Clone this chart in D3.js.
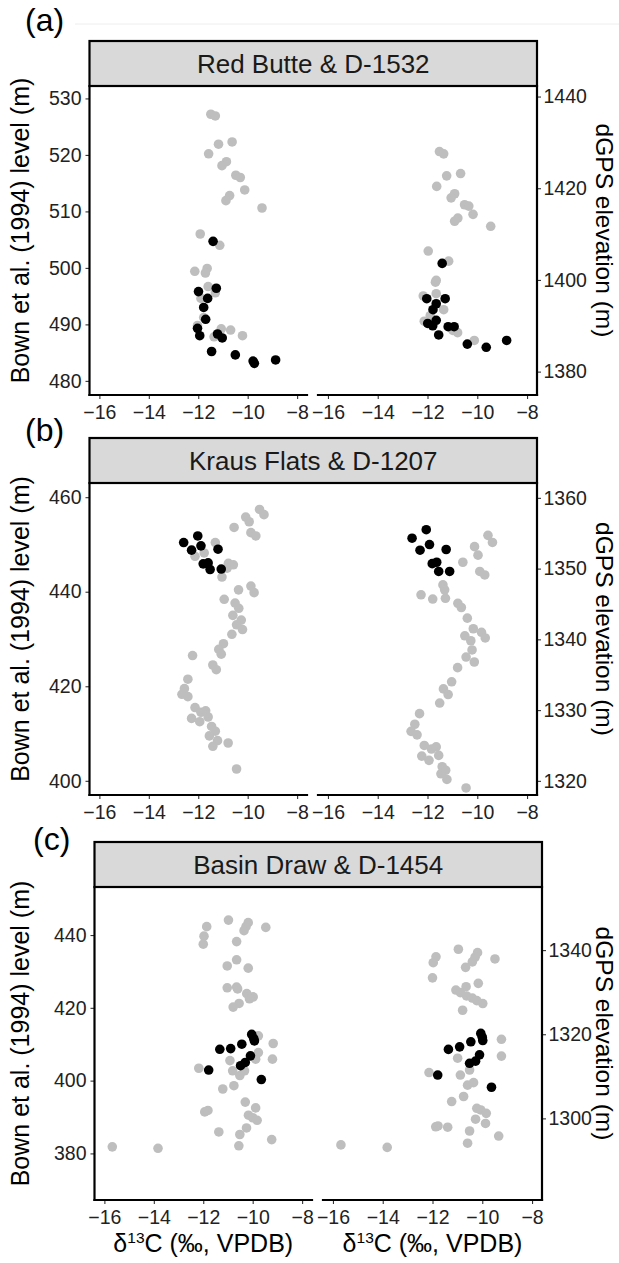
<!DOCTYPE html>
<html>
<head>
<meta charset="utf-8">
<script src="https://cdn.jsdelivr.net/npm/d3@7"></script>
<style>
  body { margin: 0; background: #fff; }
  svg { display: block; font-family: "Liberation Sans", Arial, sans-serif; }
</style>
</head>
<body>
<svg id="chart" width="619" height="1263"></svg>
<script>
// ---- data: [δ13C (‰ VPDB), stratigraphic position] ----
// Red Butte, Bown et al. (1994) level (m)
const redButteLevelGrey = [
  [-11.49,527.2],[-11.31,526.9],[-10.63,522.3],[-11.18,521.9],[-11.58,520.2],[-10.86,518.8],
  [-11.04,518.1],[-10.48,516.4],[-10.30,516.0],[-10.12,513.8],[-10.73,512.8],[-10.88,511.9],
  [-9.42,510.6],[-11.92,506.0],[-11.13,504.0],[-12.14,499.4],[-11.64,499.9],[-11.71,499.1],
  [-11.60,496.7],[-11.89,494.6],[-11.31,495.6],[-11.78,491.2],[-12.03,489.8],[-11.07,489.2],
  [-10.69,489.0],[-10.21,488.0],[-11.36,487.8]
];
const redButteLevelBlack = [
  [-11.40,504.7],[-11.99,495.8],[-11.27,496.4],[-11.62,494.6],[-11.78,493.0],[-11.70,490.9],
  [-12.03,489.3],[-11.94,488.0],[-11.22,488.3],[-11.03,487.6],[-11.46,485.2],[-10.50,484.6],
  [-9.78,483.5],[-9.73,483.1],[-8.87,483.7]
];
// Red Butte, D-1532 dGPS elevation (m)
const redButteElevGrey = [
  [-11.52,1428.0],[-11.35,1427.5],[-10.67,1423.2],[-11.23,1422.7],[-11.63,1420.4],[-10.91,1418.8],
  [-11.05,1417.9],[-10.51,1416.4],[-10.34,1416.1],[-10.17,1414.3],[-10.78,1413.5],[-10.91,1412.8],
  [-9.46,1411.7],[-11.97,1406.3],[-11.15,1404.1],[-11.68,1399.5],[-11.65,1399.9],[-12.17,1396.5],
  [-11.65,1397.0],[-11.35,1393.5],[-11.89,1392.2],[-10.79,1388.5],[-10.12,1386.8],[-12.13,1391.0],
  [-10.98,1389.0]
];
const redButteElevBlack = [
  [-11.41,1403.6],[-12.03,1395.9],[-11.29,1395.9],[-11.65,1394.8],[-11.78,1393.5],[-11.65,1391.2],
  [-11.99,1390.5],[-11.79,1390.0],[-11.17,1389.8],[-10.93,1389.8],[-11.55,1388.0],[-10.40,1386.0],
  [-9.64,1385.3],[-8.82,1386.8]
];

// Kraus Flats, Bown et al. (1994) level (m)
const krausLevelGrey = [
  [-9.52,457.4],[-9.34,456.3],[-10.08,455.8],[-9.94,454.8],[-10.55,453.6],[-9.87,452.5],
  [-9.67,451.8],[-11.31,450.4],[-11.76,448.2],[-12.13,447.5],[-10.78,446.0],[-10.58,445.7],
  [-10.83,445.0],[-11.04,443.1],[-10.95,438.4],[-10.37,440.4],[-9.87,441.2],[-9.74,439.8],
  [-10.51,437.6],[-10.36,436.5],[-10.60,435.0],[-10.26,434.0],[-10.45,433.0],[-10.21,432.0],
  [-10.64,431.0],[-10.98,429.0],[-11.17,427.8],[-11.07,426.8],[-12.23,426.5],[-11.41,424.5],
  [-11.27,423.5],[-12.42,421.5],[-12.56,419.5],[-12.66,418.3],[-12.42,417.8],[-12.13,415.5],
  [-11.89,414.5],[-11.70,414.8],[-12.27,413.2],[-11.60,413.5],[-11.94,412.5],[-11.46,411.5],
  [-11.31,410.5],[-11.55,409.5],[-11.22,408.5],[-11.41,407.3],[-10.79,408.0],[-10.45,402.5]
];
const krausLevelBlack = [
  [-12.59,450.4],[-12.02,451.8],[-12.27,448.8],[-11.89,449.7],[-11.20,449.0],[-11.80,445.9],
  [-11.60,446.1],[-11.52,444.7],[-11.07,444.8]
];
// Kraus Flats, D-1207 dGPS elevation (m)
const krausElevGrey = [
  [-9.57,1354.7],[-9.39,1353.7],[-10.11,1353.1],[-9.97,1351.9],[-10.58,1350.9],[-9.90,1349.6],
  [-9.70,1349.1],[-11.38,1347.7],[-12.26,1346.3],[-11.79,1345.7],[-11.28,1345.8],[-11.31,1347.0],
  [-10.78,1345.1],[-10.64,1344.5],[-10.40,1343.0],[-10.16,1341.5],[-10.50,1340.5],[-10.26,1339.8],
  [-9.83,1341.0],[-9.68,1340.2],[-10.21,1338.5],[-10.45,1337.5],[-10.12,1336.8],[-10.79,1336.0],
  [-11.03,1334.0],[-11.36,1333.0],[-11.17,1332.2],[-11.51,1331.0],[-12.32,1329.5],[-12.51,1328.0],
  [-12.66,1327.0],[-12.42,1326.5],[-12.13,1325.0],[-11.84,1324.5],[-11.65,1324.8],[-12.23,1323.5],
  [-11.55,1323.6],[-11.94,1322.9],[-11.41,1322.0],[-11.27,1321.5],[-11.46,1321.0],[-11.22,1320.2],
  [-10.45,1319.0]
];
const krausElevBlack = [
  [-12.05,1355.5],[-12.62,1354.3],[-11.92,1353.4],[-12.30,1352.6],[-11.25,1352.7],[-11.81,1350.7],
  [-11.63,1350.9],[-11.55,1349.6],[-11.11,1349.6]
];

// Basin Draw, Bown et al. (1994) level (m)
const basinLevelGrey = [
  [-11.86,442.3],[-11.97,439.7],[-12.00,437.5],[-10.98,444.1],[-10.18,443.4],[-10.27,442.3],
  [-10.35,441.2],[-9.47,442.1],[-10.65,438.2],[-10.65,433.2],[-11.03,431.5],[-10.18,430.9],
  [-11.03,425.5],[-10.65,425.7],[-10.61,425.2],[-10.24,423.9],[-9.98,423.0],[-10.13,422.5],
  [-10.55,421.2],[-10.79,420.2],[-12.18,403.4],[-11.21,397.7],[-10.76,398.6],[-10.92,405.5],
  [-10.81,402.7],[-10.52,401.4],[-10.33,402.7],[-9.77,412.3],[-9.77,407.7],[-9.88,405.9],
  [-9.20,405.9],[-9.17,410.2],[-10.30,394.1],[-9.88,392.5],[-11.94,391.4],[-11.81,391.8],
  [-10.17,390.5],[-10.0,389.8],[-9.82,389.1],[-10.25,387.0],[-10.52,385.2],[-11.37,385.9],
  [-9.23,383.8],[-10.56,382.1],[-15.68,381.8],[-13.83,381.4]
];
const basinLevelBlack = [
  [-11.78,402.9],[-11.33,408.6],[-10.89,408.8],[-10.44,410.0],[-10.04,412.7],[-9.96,411.6],
  [-9.93,410.9],[-10.49,404.1],[-10.30,405.0],[-10.09,406.8],[-9.65,400.3]
];
// Basin Draw, D-1454 dGPS elevation (m)
const basinElevGrey = [
  [-10.96,1340.2],[-11.86,1338.4],[-11.97,1337.0],[-12.00,1333.4],[-10.19,1339.4],[-10.29,1338.3],
  [-10.40,1337.2],[-10.67,1335.9],[-9.49,1337.9],[-10.65,1331.3],[-10.16,1332.1],[-11.06,1330.5],
  [-10.88,1329.9],[-10.63,1329.1],[-10.40,1328.6],[-10.22,1328.0],[-9.98,1327.3],[-10.79,1325.7],
  [-12.14,1310.9],[-10.99,1314.3],[-10.88,1310.3],[-10.51,1311.5],[-10.59,1307.9],[-10.35,1308.5],
  [-11.23,1304.0],[-10.75,1305.2],[-10.22,1302.4],[-10.06,1302.0],[-9.84,1301.2],[-10.27,1299.8],
  [-9.87,1298.8],[-11.87,1298.0],[-11.78,1298.2],[-11.39,1297.9],[-10.51,1297.0],[-10.59,1294.1],
  [-9.34,1295.8],[-9.23,1314.8],[-9.23,1318.8],[-15.68,1293.7],[-13.82,1293.1]
];
const basinElevBlack = [
  [-11.36,1316.4],[-10.91,1317.0],[-10.46,1318.2],[-10.06,1320.2],[-10.0,1319.3],[-9.98,1318.5],
  [-11.79,1310.3],[-10.51,1313.1],[-10.27,1313.6],[-10.11,1315.1],[-9.63,1307.4]
];

// ---- axis ticks ----
const d13cTicks = [-16, -14, -12, -10, -8];
const redButteLevelTicks = [480, 490, 500, 510, 520, 530];
const redButteElevTicks = [1380, 1400, 1420, 1440];
const krausLevelTicks = [400, 420, 440, 460];
const krausElevTicks = [1320, 1330, 1340, 1350, 1360];
const basinLevelTicks = [380, 400, 420, 440];
const basinElevTicks = [1300, 1320, 1340];

// ---- panel layout ----
const panels = [
  { tag: "(a)", tagX: 25, tagY: 31, title: "Red Butte & D-1532", dx: 0, top: 41, bottom: 395,
    levelDomain: [477.5, 532.2], elevDomain: [1374.9, 1442.3],
    levelTicks: redButteLevelTicks, elevTicks: redButteElevTicks,
    level: [redButteLevelGrey, redButteLevelBlack], elev: [redButteElevGrey, redButteElevBlack] },
  { tag: "(b)", tagX: 25, tagY: 441, title: "Kraus Flats & D-1207", dx: 0, top: 438, bottom: 795,
    levelDomain: [397.0, 463.0], elevDomain: [1318.0, 1362.1],
    levelTicks: krausLevelTicks, elevTicks: krausElevTicks,
    level: [krausLevelGrey, krausLevelBlack], elev: [krausElevGrey, krausElevBlack] },
  { tag: "(c)", tagX: 33, tagY: 850, title: "Basin Draw & D-1454", dx: 5, top: 842, bottom: 1200,
    levelDomain: [367.2, 453.2], elevDomain: [1280.6, 1355.0],
    levelTicks: basinLevelTicks, elevTicks: basinElevTicks,
    level: [basinLevelGrey, basinLevelBlack], elev: [basinElevGrey, basinElevBlack],
    xTitle: true }
];

const stripH = 45;
const xDomain = [-16.4, -7.6];
const leftX0 = 89.5, leftX1 = 307, rightX0 = 318, rightX1 = 537;
const colours = ["#bebebe", "#000000"];
const pointR = 4.8;
const tickLen = 4;
const tickFont = 19.5;
const titleFont = 25;

const svg = d3.select("#chart");

// faint rule near the top edge
svg.append("line").attr("x1", 75).attr("x2", 619).attr("y1", 24).attr("y2", 24)
  .attr("stroke", "#eeeeee").attr("stroke-width", 1);

function styleAxis(g) {
  g.select(".domain").remove();
  g.selectAll(".tick line").attr("stroke", "#333").attr("stroke-width", 1.1);
  g.selectAll(".tick text").attr("fill", "#222").attr("font-size", tickFont)
    .attr("font-family", "Liberation Sans, Arial, sans-serif");
}

panels.forEach(p => {
  const g = svg.append("g").attr("transform", `translate(${p.dx},0)`);
  const plotTop = p.top + stripH;

  const xL = d3.scaleLinear().domain(xDomain).range([leftX0, leftX1]);
  const xR = d3.scaleLinear().domain(xDomain).range([rightX0, rightX1]);
  const yL = d3.scaleLinear().domain(p.levelDomain).range([p.bottom, plotTop]);
  const yR = d3.scaleLinear().domain(p.elevDomain).range([p.bottom, plotTop]);

  // panel tag
  svg.append("text").attr("x", p.tagX).attr("y", p.tagY)
    .attr("font-size", 32).attr("fill", "#000").text(p.tag);

  // facet strip
  g.append("rect").attr("x", leftX0).attr("y", p.top)
    .attr("width", rightX1 - leftX0).attr("height", stripH)
    .attr("fill", "#d9d9d9").attr("stroke", "#000").attr("stroke-width", 2.2);
  g.append("text").attr("x", (leftX0 + rightX1) / 2).attr("y", p.top + stripH / 2)
    .attr("dy", "0.36em").attr("text-anchor", "middle")
    .attr("font-size", 26).attr("fill", "#1a1a1a").text(p.title);

  // points
  const drawPts = (sets, xs, ys) => {
    sets.forEach((set, i) => {
      g.append("g").selectAll("circle").data(set).join("circle")
        .attr("cx", d => xs(d[0])).attr("cy", d => ys(d[1]))
        .attr("r", pointR).attr("fill", colours[i]);
    });
  };
  drawPts(p.level, xL, yL);
  drawPts(p.elev, xR, yR);

  // axes
  const plain = d => String(d);
  g.append("g").attr("transform", `translate(${leftX0},0)`)
    .call(d3.axisLeft(yL).tickValues(p.levelTicks).tickFormat(plain).tickSize(tickLen).tickPadding(4))
    .call(styleAxis);
  g.append("g").attr("transform", `translate(${rightX1},0)`)
    .call(d3.axisRight(yR).tickValues(p.elevTicks).tickFormat(plain).tickSize(tickLen).tickPadding(2.5))
    .call(styleAxis);
  const fmt = d => (d < 0 ? "\u2212" + Math.abs(d) : String(d));
  g.append("g").attr("transform", `translate(0,${p.bottom})`)
    .call(d3.axisBottom(xL).tickValues(d13cTicks).tickFormat(fmt).tickSize(tickLen).tickPadding(6))
    .call(styleAxis);
  g.append("g").attr("transform", `translate(0,${p.bottom})`)
    .call(d3.axisBottom(xR).tickValues(d13cTicks).tickFormat(fmt).tickSize(tickLen).tickPadding(6))
    .call(styleAxis);

  // axis lines
  const line = (x1, y1, x2, y2) => g.append("line")
    .attr("x1", x1).attr("y1", y1).attr("x2", x2).attr("y2", y2)
    .attr("stroke", "#000").attr("stroke-width", 2.2).attr("stroke-linecap", "square");
  line(leftX0, plotTop, leftX0, p.bottom);
  line(leftX0, p.bottom, leftX1, p.bottom);
  line(rightX1, plotTop, rightX1, p.bottom);
  line(rightX0, p.bottom, rightX1, p.bottom);

  // axis titles
  const midY = (plotTop + p.bottom) / 2 - 10;
  svg.append("text").attr("transform", `translate(29,${midY}) rotate(-90)`)
    .attr("text-anchor", "middle").attr("font-size", titleFont).attr("fill", "#000")
    .text("Bown et al. (1994) level (m)");
  svg.append("text").attr("transform", `translate(596,${midY}) rotate(90)`)
    .attr("text-anchor", "middle").attr("font-size", 24.5).attr("fill", "#000")
    .text("dGPS elevation (m)");

  if (p.xTitle) {
    [[leftX0, leftX1], [rightX0, rightX1]].forEach(([a, b]) => {
      const t = g.append("text").attr("x", (a + b) / 2).attr("y", p.bottom + 52)
        .attr("text-anchor", "middle").attr("font-size", titleFont).attr("fill", "#000");
      t.append("tspan").text("\u03b4");
      t.append("tspan").attr("font-size", titleFont * 0.62).attr("dy", "-0.55em").text("13");
      t.append("tspan").attr("dy", "0.34em").text("C (\u2030, VPDB)");
    });
  }
});
</script>
</body>
</html>
